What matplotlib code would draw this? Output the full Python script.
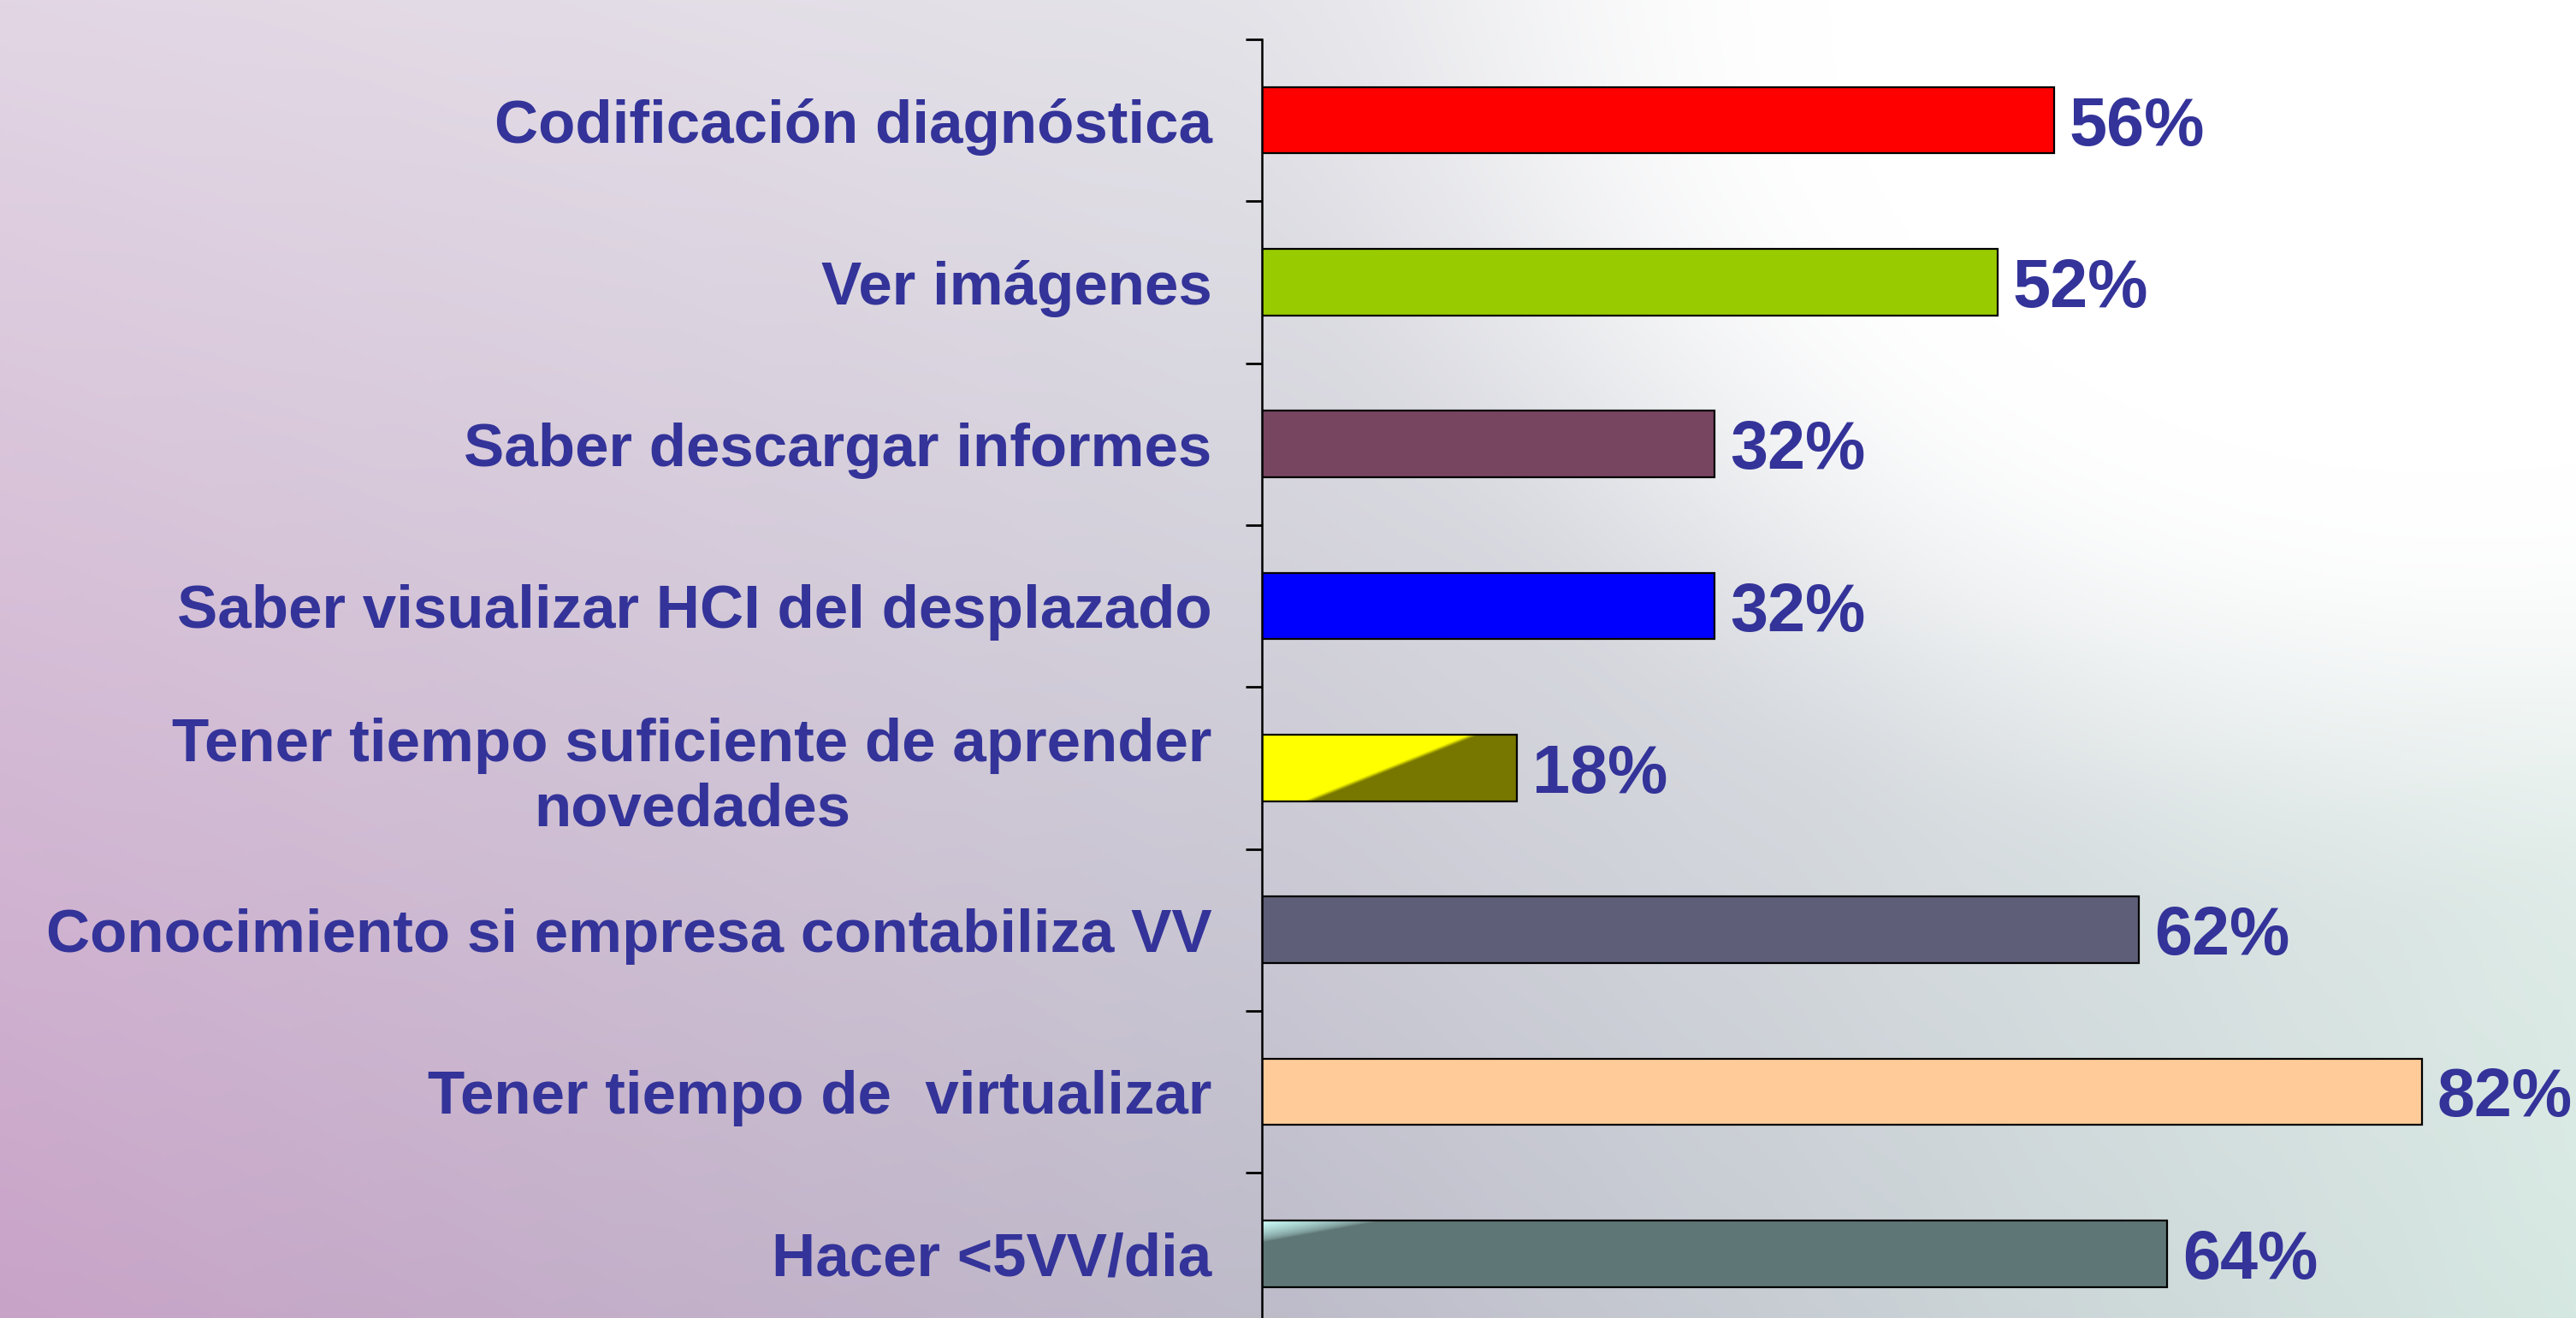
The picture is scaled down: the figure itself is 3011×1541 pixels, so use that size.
import numpy as np
import matplotlib
matplotlib.use("Agg")
import matplotlib.pyplot as plt

# ---- data ----
categories = [
    "Codificación diagnóstica",
    "Ver imágenes",
    "Saber descargar informes",
    "Saber visualizar HCI del desplazado",
    "Tener tiempo suficiente de aprender\nnovedades",
    "Conocimiento si empresa contabiliza VV",
    "Tener tiempo de  virtualizar",
    "Hacer <5VV/dia",
]
values = [56, 52, 32, 32, 18, 62, 82, 64]
bar_colors = ["#FF0000", "#99CC00", "#784561", "#0000FF",
              "#FFFF00", "#5E5E78", "#FFCC99", "#5F7676"]
value_labels = [f"{v}%" for v in values]

TEXT = "#333399"
plt.rcParams['font.family'] = ['Liberation Sans', 'DejaVu Sans']

W, H = 3011, 1541
fig = plt.figure(figsize=(W / 100, H / 100), dpi=100)

# ---- background ----
bg_ax = fig.add_axes([0, 0, 1, 1], zorder=0)
h, w = 386, 753
xx, yy = np.meshgrid(np.linspace(0, 1, w), np.linspace(0, 1, h))
xs = np.array([0.0, 0.5, 1.0])
top_row = np.array([[226, 214, 228], [228, 228, 233], [240, 242, 242]])
bot_row = np.array([[200, 163, 200], [190, 188, 202], [214, 232, 226]])
top = np.stack([np.interp(xx, xs, top_row[:, k]) for k in range(3)], axis=-1)
bot = np.stack([np.interp(xx, xs, bot_row[:, k]) for k in range(3)], axis=-1)
base = top * (1 - yy[..., None]) + bot * yy[..., None]
d = np.sqrt(((xx - 0.95) / 0.48) ** 2 + ((yy - 0.0) / 0.72) ** 2)
g = np.clip((1 - d) / 0.5, 0, 1)
g = g * g * (3 - 2 * g)
bg = base * (1 - g[..., None]) + 255 * g[..., None]
bg_ax.imshow(bg.astype(np.uint8), aspect='auto', extent=(0, 1, 1, 0), interpolation='bilinear')
bg_ax.set_axis_off()

# ---- main axes ----
ax = fig.add_axes([1475 / W, 0, 1 - 1475 / W, 1 - 46 / H], zorder=1)
ax.patch.set_alpha(0)
ypos = np.arange(len(categories))
bar_h = 0.41
bars = ax.barh(ypos, values, height=bar_h, color=bar_colors,
               edgecolor='black', linewidth=1.6, zorder=2)

# gradient fill for yellow bar
p = bars[4]
x0, y0, bw, bh = p.get_x(), p.get_y(), p.get_width(), p.get_height()
gh, gw = 80, 300
u, v = np.meshgrid(np.linspace(0, 1, gw), np.linspace(0, 1, gh))  # v=0 top
edge = 0.83 + (0.18 - 0.83) * v
t = np.clip((u - edge) / 0.04 + 0.5, 0, 1)
c1 = np.array([255, 255, 0]); c2 = np.array([119, 119, 0])
img = c1 * (1 - t[..., None]) + c2 * t[..., None]
ax.imshow(img.astype(np.uint8), extent=(x0, x0 + bw, y0 + bh, y0), aspect='auto',
          zorder=1.9, interpolation='bilinear')
p.set_facecolor('none')

# highlight for last bar
p = bars[7]
x0, y0, bw, bh = p.get_x(), p.get_y(), p.get_width(), p.get_height()
u, v = np.meshgrid(np.linspace(0, 1, 600), np.linspace(0, 1, 80))
inten = np.clip(1 - (u / 0.13 + v / 0.32), 0, 1) ** 0.6
c1 = np.array([95, 118, 118]); c2 = np.array([205, 255, 250])
img = c1 * (1 - inten[..., None]) + c2 * inten[..., None]
ax.imshow(img.astype(np.uint8), extent=(x0, x0 + bw, y0 + bh, y0), aspect='auto',
          zorder=1.9, interpolation='bilinear')
p.set_facecolor('none')

labels_txt = ax.bar_label(bars, labels=value_labels, padding=13, fontsize=57,
                          fontweight='bold', color=TEXT)
for tx in labels_txt:
    tx.set_verticalalignment('center_baseline')

ax.set_yticks(ypos)
ax.set_yticklabels(categories, fontsize=51, fontweight='bold', color=TEXT)
for lab in ax.get_yticklabels():
    lab.set_multialignment('center')
    lab.set_linespacing(1.17)
ax.set_yticks(np.arange(len(categories) + 1) - 0.5, minor=True)
ax.tick_params(axis='y', which='major', length=0, pad=42)
ax.tick_params(axis='y', which='minor', length=14, width=2, color='black', direction='out')
ax.xaxis.set_visible(False)
for s in ['top', 'right', 'bottom']:
    ax.spines[s].set_visible(False)
ax.spines['left'].set_linewidth(1.8)
ax.spines['left'].set_color('black')

# limits set last (set_yticks can widen the view)
ax.set_xlim(0, 92.9)
ax.set_ylim(-0.5 + (H - 46) / 189.3, -0.5)

fig.savefig("out.png", dpi=100)
